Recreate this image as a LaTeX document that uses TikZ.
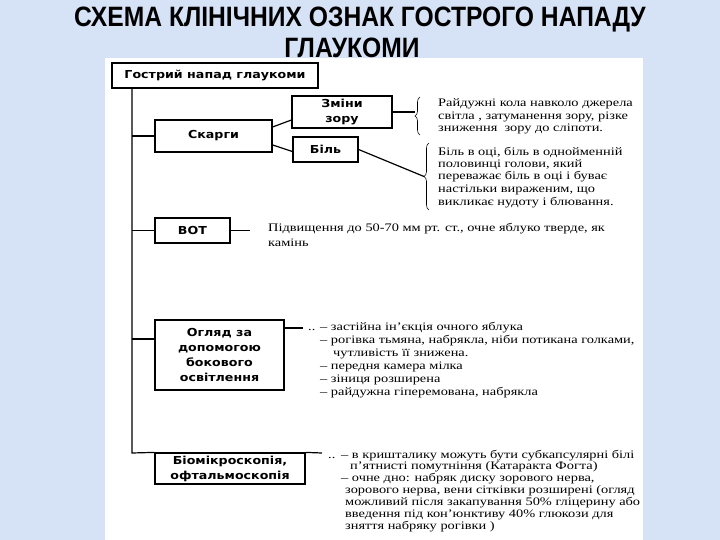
\documentclass[tikz,border=0pt]{standalone}
\usepackage{fontspec}
\setmainfont{Liberation Serif}
\newfontfamily\titlefont{Liberation Sans Bold}[FakeStretch=0.88]
\newfontfamily\boxfont{DejaVu Sans Bold}[FakeStretch=1.15]
\newfontfamily\txtfont{Liberation Serif}[FakeStretch=1.25]
\usetikzlibrary{decorations.pathreplacing}
\definecolor{bgblue}{HTML}{D6E2F6}
\begin{document}
\begin{tikzpicture}[x=1pt,y=-1pt,
  box/.style={draw=black,line width=1.2pt,fill=white,align=center,inner sep=0pt,
    font=\boxfont\fontsize{11}{15}\selectfont},
  link/.style={line width=1.2pt},
  txt/.style={font=\txtfont\fontsize{11.5}{12.5}\selectfont,anchor=base west,inner sep=0pt},
  brc/.style={decorate,decoration={brace,amplitude=5pt},line width=0.6pt}]
\useasboundingbox (0,0) rectangle (720,540);
\fill[bgblue] (0,0) rectangle (720,540);
\fill[white] (105,58) rectangle (643,540);
% title
\node[font=\titlefont\fontsize{28}{30}\selectfont,inner sep=0pt] (title1) at (360,20) {СХЕМА КЛІНІЧНИХ ОЗНАК ГОСТРОГО НАПАДУ};
\node[font=\titlefont\fontsize{28}{30}\selectfont,inner sep=0pt] (title2) at (352,48) {ГЛАУКОМИ};
% boxes
\node[box,minimum width=206,minimum height=25] (top) at (215,75.5) {Гострий напад глаукоми};
\node[box,minimum width=117,minimum height=32] (skarhy) at (213.5,136) {Скарги};
\node[box,minimum width=100,minimum height=32] (zminy) at (342,112) {Зміни\\зору};
\node[box,minimum width=65,minimum height=25] (bil) at (325.5,149.5) {Біль};
\node[box,minimum width=75,minimum height=25] (vot) at (192.5,230.5) {ВОТ};
\node[box,minimum width=129,minimum height=70] (ohliad) at (219.5,355) {Огляд за\\допомогою\\бокового\\освітлення};
\node[box,minimum width=150,minimum height=31] (bio) at (230,468.5) {Біомікроскопія,\\офтальмоскопія};
% trunk and branches
\coordinate (tb) at (132,453);
\coordinate (oj) at (155,339);
\draw[link] (top.south -| tb) -- (tb) -- (bio.north west);
\draw[link] (skarhy.west -| tb) -- (skarhy.west);
\draw[link] (vot.west -| tb) -- (vot.west);
\draw[link] (oj -| tb) -- (oj);
\draw[link] ([yshift=9pt]skarhy.east) -- ([yshift=-8pt]zminy.west);
\draw[link] ([yshift=-9pt]skarhy.east) -- ([yshift=-2pt]bil.west);
% braces
\coordinate (b1) at (415,112);
\coordinate (b2) at (424,176.5);
\draw[link] (zminy.east) -- (b1);
\draw[link] (bil.east) -- (b2);
\draw[brc] (420,135) -- (420,97);
\draw[brc] (429,210) -- (429,143);
\node[txt] (t11) at (438,107) {Райдужні кола навколо джерела};
\node[txt] (t12) at (438,120) {світла , затуманення зору, різке};
\node[txt] (t13) at (438,132) {зниження\ \ зору до сліпоти.};
\node[txt] (t21) at (438,156) {Біль в оці, біль в однойменній};
\node[txt] (t22) at (438,168) {половинці голови, який};
\node[txt] (t23) at (438,180) {переважає біль в оці і буває};
\node[txt] (t24) at (438,193) {настільки вираженим, що};
\node[txt] (t25) at (438,206) {викликає нудоту і блювання.};
% VOT
\coordinate (ve) at (250,230.5);
\draw[link] (vot.east) -- (ve);
\node[txt] (t31) at (268,232) {Підвищення до 50-70 мм рт. ст., очне яблуко тверде, як};
\node[txt] (t32) at (268,246) {камінь};
% ohliad
\coordinate (oe) at (303,328);
\draw[link] ([yshift=27pt]ohliad.east) -- (oe);
\node[txt] (d4) at (308,330) {..};
\node[txt] (t41) at (320,330) {– застійна ін’єкція очного яблука};
\node[txt] (t42) at (320,343) {– рогівка тьмяна, набрякла, ніби потикана голками,};
\node[txt] (t43) at (333,356) {чутливість її знижена.};
\node[txt] (t44) at (320,369) {– передня камера мілка};
\node[txt] (t45) at (320,382) {– зіниця розширена};
\node[txt] (t46) at (320,395) {– райдужна гіперемована, набрякла};
% bio
\coordinate (be) at (322,453);
\draw[link] (bio.north east) -- (be);
\node[txt] (d5) at (328,458) {..};
\node[txt] (t51) at (341,458) {– в кришталику можуть бути субкапсулярні білі};
\node[txt] (t52) at (350,469) {п’ятнисті помутніння (Катаракта Фогта)};
\node[txt] (t53) at (341,481) {– очне дно: набряк диску зорового нерва,};
\node[txt] (t54) at (345,493) {зорового нерва, вени сітківки розширені (огляд};
\node[txt] (t55) at (345,505) {можливий після закапування 50\% гліцерину або};
\node[txt] (t56) at (345,517) {введення під кон’юнктиву 40\% глюкози для};
\node[txt] (t57) at (345,529) {зняття набряку рогівки )};
\end{tikzpicture}
\end{document}
